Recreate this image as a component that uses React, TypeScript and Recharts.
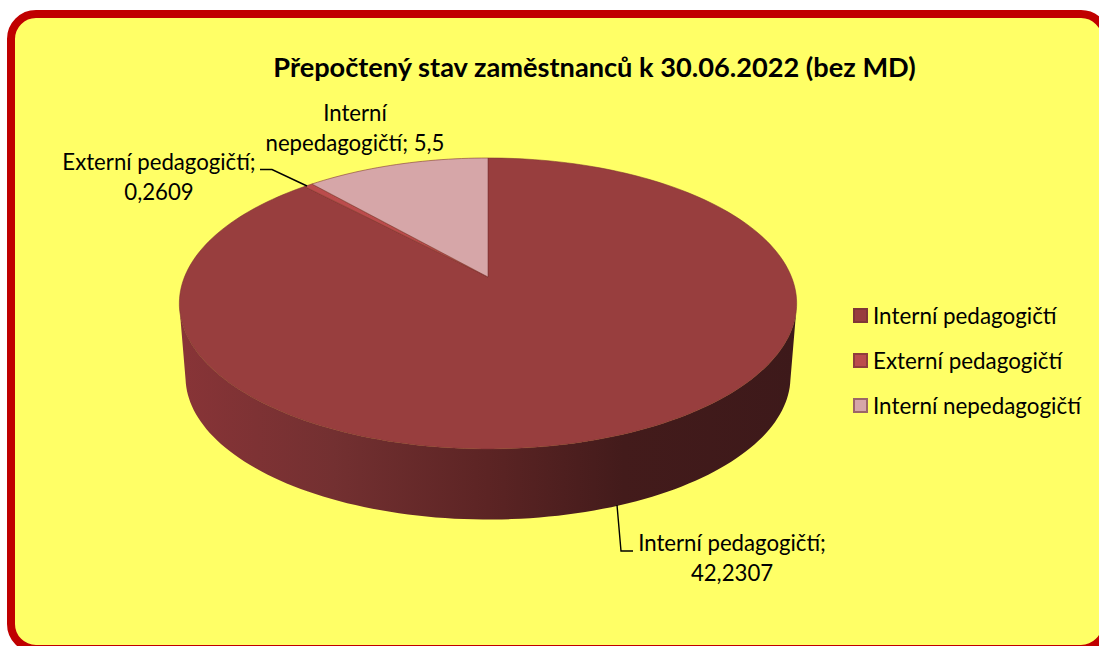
import { Legend, Pie, PieChart } from "recharts";

const categories = ["Interní pedagogičtí", "Externí pedagogičtí", "Interní nepedagogičtí"];
const values = [42.2307, 0.2609, 5.5];
const colors = ["#983e3e", "#bb4c4c", "#d6a6a8"];
const valueLabels = ["42,2307", "0,2609", "5,5"];

const data = categories.map((name, i) => ({ name, value: values[i], fill: colors[i] }));

const FONT = "Lato, Carlito, sans-serif";
const TILT = 0.182; // perspective of the disc
const SQUASH = 0.4635;
const DEPTH_Y = 74;
const BOTTOM_SCALE = 0.98;

// library angle -> point on the tilted disc
function project(cx: number, cy: number, r: number, deg: number) {
  const a = (deg * Math.PI) / 180;
  const u = Math.cos(a);
  const v = Math.sin(a);
  const w = 1 + TILT * v;
  return { x: cx + (r * u) / w, y: cy - (r * SQUASH * v) / w, v };
}

function sampleAngles(start: number, end: number) {
  const n = Math.max(2, Math.ceil(Math.abs(end - start) / 1.5));
  const out: number[] = [];
  for (let i = 0; i <= n; i++) out.push(start + ((end - start) * i) / n);
  return out;
}

function DiscSector(props: any) {
  const { cx, cy, outerRadius, startAngle, endAngle, fill } = props;
  const angles = sampleAngles(startAngle, endAngle);
  const top = angles.map((a) => project(cx, cy, outerRadius, a));
  const face =
    `M${cx},${cy} ` + top.map((p) => `L${p.x.toFixed(2)},${p.y.toFixed(2)}`).join(" ") + " Z";

  // front wall only, ends where the rim turns away from the viewer
  const visible = angles.filter((a) => Math.sin((a * Math.PI) / 180) < -TILT);
  let wall = "";
  if (visible.length > 1) {
    const upper = visible.map((a) => project(cx, cy, outerRadius, a));
    const lower = visible
      .map((a) => project(cx, cy + DEPTH_Y, outerRadius * BOTTOM_SCALE, a))
      .reverse();
    wall =
      "M" + upper.concat(lower).map((p) => `${p.x.toFixed(2)},${p.y.toFixed(2)}`).join(" L") + " Z";
  }

  return (
    <g>
      <defs>
        <linearGradient id="wallShade" gradientUnits="userSpaceOnUse" x1="180" y1="0" x2="796" y2="0">
          <stop offset="0" stopColor="#883437" />
          <stop offset="0.25" stopColor="#733031" />
          <stop offset="0.5" stopColor="#5c2424" />
          <stop offset="0.72" stopColor="#431b1b" />
          <stop offset="1" stopColor="#3d191a" />
        </linearGradient>
      </defs>
      {wall && <path d={wall} fill="url(#wallShade)" stroke="none" />}
      <path d={face} fill={fill} stroke="#7c3030" strokeOpacity={0.7} strokeWidth={0.8} />
    </g>
  );
}

const labelAnchors = [
  { x: 732, y: 551, leader: "M617,505 L621,551 L633,551" },
  { x: 159, y: 170, leader: "M260,169.5 L272,169.5 L307,186" },
  { x: 355, y: 121, leader: "" },
];

function SliceLabel(props: any) {
  const { index } = props;
  const anchor = labelAnchors[index];
  const name = categories[index];
  const lines =
    index === 2
      ? ["Interní", `nepedagogičtí; ${valueLabels[index]}`]
      : [`${name};`, valueLabels[index]];
  return (
    <g>
      {anchor.leader && <path d={anchor.leader} fill="none" stroke="#000" strokeWidth={1.4} />}
      {lines.map((line, i) => (
        <text
          key={line}
          x={anchor.x}
          y={anchor.y + i * 29.5}
          textAnchor="middle"
          fontFamily={FONT}
          fontSize={22.2}
          fill="#000"
        >
          {line}
        </text>
      ))}
    </g>
  );
}

function LegendBox() {
  return (
    <div>
      {categories.map((name, i) => (
        <div key={name} style={{ display: "flex", alignItems: "center", height: 45, whiteSpace: "nowrap" }}>
          <span
            style={{
              width: 11,
              height: 11,
              marginRight: 5,
              background: colors[i],
              border: "2px solid rgba(110,50,50,0.55)",
            }}
          />
          <span style={{ fontFamily: FONT, fontSize: 22.4, color: "#000" }}>{name}</span>
        </div>
      ))}
    </div>
  );
}

export default function App() {
  return (
    <div style={{ position: "fixed", left: 0, top: 0, width: 1099, height: 646, overflow: "hidden", background: "#fff" }}>
      <div
        style={{
          position: "absolute",
          left: 7,
          top: 10,
          width: 1087,
          height: 627,
          border: "8px solid #c00000",
          borderRadius: 29,
          background: "#ffff66",
        }}
      />
      <div style={{ position: "absolute", left: 0, top: 0 }}>
        <PieChart width={1099} height={646} margin={{ top: 0, right: 0, bottom: 0, left: 0 }}>
          <text
            x={594.5}
            y={77}
            textAnchor="middle"
            fontFamily={FONT}
            fontSize={27.2}
            fontWeight={700}
            fill="#000"
          >
            Přepočtený stav zaměstnanců k 30.06.2022 (bez MD)
          </text>
          <Pie
            data={data}
            dataKey="value"
            nameKey="name"
            cx={488}
            cy={277}
            outerRadius={303.5}
            startAngle={90}
            endAngle={-270}
            stroke="none"
            shape={DiscSector}
            label={SliceLabel}
            labelLine={false}
            isAnimationActive={false}
          />
          <Legend
            layout="vertical"
            content={<LegendBox />}
            wrapperStyle={{ position: "absolute", left: 853, top: 293, width: 240 }}
          />
        </PieChart>
      </div>
    </div>
  );
}
